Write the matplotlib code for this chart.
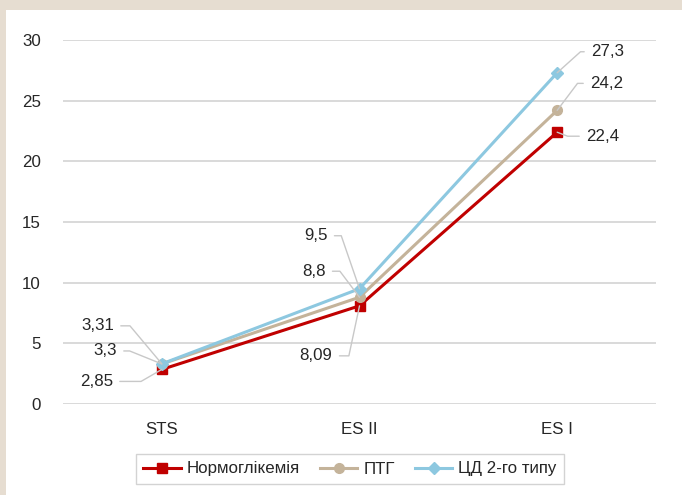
import matplotlib
matplotlib.use("Agg")
import matplotlib.pyplot as plt
from matplotlib.patches import Rectangle

plt.rcParams['font.family'] = ['Liberation Sans', 'DejaVu Sans']

categories = ["STS", "ES II", "ES I"]
norm = [2.85, 8.09, 22.4]
ptg = [3.3, 8.8, 24.2]
cd2 = [3.31, 9.5, 27.3]
series_names = ["Нормоглікемія", "ПТГ", "ЦД 2-го типу"]
label_texts = [["2,85", "8,09", "22,4"],
               ["3,3", "8,8", "24,2"],
               ["3,31", "9,5", "27,3"]]

# label offsets in pixels (dx, dy up), leader angle at the point, text side
label_pos = [
    [(-49, -12, -150, 'right'), (-27, -50, -102, 'right'), (29, -4, -21, 'left')],
    [(-45, 13, 158, 'right'), (-34, 26, 127, 'right'), (33, 27, 53, 'left')],
    [(-48, 38, 130, 'right'), (-32, 53, 109, 'right'), (34, 21, 42, 'left')],
]

colors = ["#C00000", "#C4B39A", "#8DC8E0"]
markers = ["s", "o", "D"]
msizes = [6.5, 7, 6.5]

fs = 12.2

fig = plt.figure(figsize=(6.82, 4.95), dpi=100)
fig.patch.set_facecolor("#E6DDD1")
fig.add_artist(Rectangle((6 / 682, 0), 1, (495 - 10) / 495, transform=fig.transFigure,
                         facecolor="white", edgecolor="none", zorder=-10))
ax = fig.add_axes([63 / 682, 1 - 404 / 495, (656 - 63) / 682, (404 - 40) / 495])
ax.set_facecolor("none")

x = list(range(len(categories)))
for i, vals in enumerate([norm, ptg, cd2]):
    ax.plot(x, vals, color=colors[i], lw=2.2, marker=markers[i], ms=msizes[i],
            label=series_names[i], zorder=3 + i)
    for j, v in enumerate(vals):
        dx, dy, ang, side = label_pos[i][j]
        ax.annotate(label_texts[i][j], xy=(j, v), xytext=(dx, dy), textcoords='offset pixels',
                    ha=side, va='center', fontsize=fs, color="#262626",
                    arrowprops=dict(arrowstyle='-', color="#C8C8C8", lw=1,
                                    shrinkA=3, shrinkB=0,
                                    relpos=(1, 0.5) if side == 'right' else (0, 0.5),
                                    connectionstyle="angle,angleA=0,angleB=%d,rad=0" % ang),
                    zorder=10)

ax.set_xlim(-0.5, 2.5)
ax.set_ylim(0, 30)
ax.set_yticks([0, 5, 10, 15, 20, 25, 30])
ax.set_xticks(x)
ax.set_xticklabels(categories)
ax.tick_params(length=0, labelsize=fs, colors="#262626")
ax.tick_params(axis='y', pad=16)
ax.tick_params(axis='x', pad=13)
ax.grid(axis='y', color="#D0D0D0", lw=1.1)
ax.set_axisbelow(True)
for s in ax.spines.values():
    s.set_visible(False)

leg = ax.legend(loc='center', bbox_to_anchor=(350 / 682, 1 - 469 / 495),
                bbox_transform=fig.transFigure, ncol=3, fontsize=fs,
                frameon=True, fancybox=False, edgecolor="#C8C8C8",
                handlelength=2.2, columnspacing=1.2, handletextpad=0.35,
                borderpad=0.45, borderaxespad=0)
leg.get_frame().set_linewidth(1)
for t in leg.get_texts():
    t.set_color("#262626")

fig.savefig("out.png", dpi=100, facecolor=fig.get_facecolor())
